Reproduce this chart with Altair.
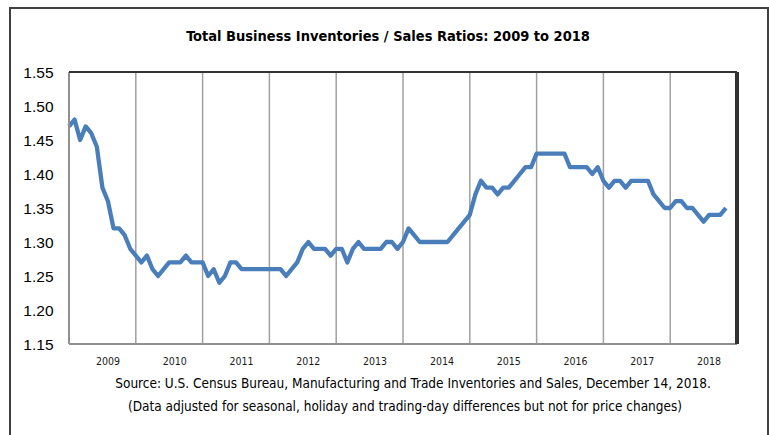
import altair as alt
import pandas as pd

# Monthly inventories/sales ratio (index 0 = first month plotted)
ratios = [
    1.47, 1.48, 1.45, 1.47, 1.46, 1.44, 1.38, 1.36, 1.32, 1.32, 1.31, 1.29,
    1.28, 1.27, 1.28, 1.26, 1.25, 1.26, 1.27, 1.27, 1.27, 1.28, 1.27, 1.27,
    1.27, 1.25, 1.26, 1.24, 1.25, 1.27, 1.27, 1.26, 1.26, 1.26, 1.26, 1.26,
    1.26, 1.26, 1.26, 1.25, 1.26, 1.27, 1.29, 1.30, 1.29, 1.29, 1.29, 1.28,
    1.29, 1.29, 1.27, 1.29, 1.30, 1.29, 1.29, 1.29, 1.29, 1.30, 1.30, 1.29,
    1.30, 1.32, 1.31, 1.30, 1.30, 1.30, 1.30, 1.30, 1.30, 1.31, 1.32, 1.33,
    1.34, 1.37, 1.39, 1.38, 1.38, 1.37, 1.38, 1.38, 1.39, 1.40, 1.41, 1.41,
    1.43, 1.43, 1.43, 1.43, 1.43, 1.43, 1.41, 1.41, 1.41, 1.41, 1.40, 1.41,
    1.39, 1.38, 1.39, 1.39, 1.38, 1.39, 1.39, 1.39, 1.39, 1.37, 1.36, 1.35,
    1.35, 1.36, 1.36, 1.35, 1.35, 1.34, 1.33, 1.34, 1.34, 1.34, 1.35,
]
years = ["2009", "2010", "2011", "2012", "2013", "2014", "2015", "2016", "2017", "2018"]
y_ticks = [1.15, 1.20, 1.25, 1.30, 1.35, 1.40, 1.45, 1.50, 1.55]
title_text = "Total Business Inventories / Sales Ratios: 2009 to 2018"
source_line1 = "Source: U.S. Census Bureau, Manufacturing and Trade Inventories and Sales, December 14, 2018."
source_line2 = "(Data adjusted for seasonal, holiday and trading-day differences but not for price changes)"

W, H = 668, 272
NARROW = "Liberation Sans Narrow, DejaVu Sans Condensed, Arial Narrow, sans-serif"

df = pd.DataFrame({"m": list(range(len(ratios))), "ratio": ratios})
bounds = pd.DataFrame({"m": [12 * (i + 1) for i in range(len(years) - 1)]})
centers = [12 * i + 6 for i in range(len(years))]
label_expr = "[" + ",".join("'%s'" % y for y in years) + "][floor(datum.value / 12)]"

xscale = alt.Scale(domain=[0, 120], nice=False, zero=False)
yscale = alt.Scale(domain=[1.15, 1.55], nice=False, zero=False)

x_axis = alt.Axis(
    values=centers, labelExpr=label_expr, title=None, grid=False, ticks=False,
    domain=False, labelFont=NARROW, labelFontSize=10.5, labelColor="#1a1a1a",
    labelPadding=12, labelOverlap=False, labelOffset=5,
)
y_axis = alt.Axis(
    values=y_ticks, format=".2f", title=None, grid=False, ticks=False, domain=False,
    labelFont="Liberation Sans, Arial, sans-serif", labelFontSize=15.5,
    labelColor="#000000", labelPadding=16,
)

frame = alt.Chart(df).mark_rect(filled=False, stroke="#404040", strokeWidth=2).encode(
    x=alt.value(-59), x2=alt.value(699), y=alt.value(-64), y2=alt.value(420)
)

grid = alt.Chart(bounds).mark_rule(color="#a0a0a0", strokeWidth=1.5).encode(
    x=alt.X("m:Q", scale=xscale, axis=x_axis)
)

line = alt.Chart(df).mark_line(color="#4a7ebb", strokeWidth=4.3, strokeJoin="round").encode(
    x=alt.X("m:Q", scale=xscale, axis=x_axis),
    y=alt.Y("ratio:Q", scale=yscale, axis=y_axis),
)

left_bottom = alt.Chart(df).mark_rule(color="#909090", strokeWidth=1.5).encode(
    x=alt.value(0), x2=alt.value(0), y=alt.value(0), y2=alt.value(H)
) + alt.Chart(df).mark_rule(color="#909090", strokeWidth=1.5).encode(
    x=alt.value(0), x2=alt.value(W), y=alt.value(H), y2=alt.value(H)
)
top_right = alt.Chart(df).mark_rule(color="#333333", strokeWidth=2).encode(
    x=alt.value(0), x2=alt.value(W), y=alt.value(0), y2=alt.value(0)
) + alt.Chart(df).mark_rule(color="#333333", strokeWidth=2.5).encode(
    x=alt.value(W), x2=alt.value(W), y=alt.value(0), y2=alt.value(H)
)

title = alt.Chart(pd.DataFrame({"t": [title_text]})).mark_text(
    font=NARROW, fontSize=14.5, fontWeight="bold", color="#000000", align="center", baseline="middle"
).encode(text="t:N", x=alt.value(319), y=alt.value(-35))

src1 = alt.Chart(pd.DataFrame({"t": [source_line1]})).mark_text(
    font=NARROW, fontSize=13.5, color="#000000", align="center", baseline="middle"
).encode(text="t:N", x=alt.value(W / 2 + 10), y=alt.value(312))

src2 = alt.Chart(pd.DataFrame({"t": [source_line2]})).mark_text(
    font=NARROW, fontSize=13.5, color="#000000", align="center", baseline="middle"
).encode(text="t:N", x=alt.value(W / 2 + 2), y=alt.value(335))

chart = alt.layer(frame, grid, line, left_bottom, top_right, title, src1, src2).properties(
    width=W,
    height=H,
    autosize=alt.AutoSizeParams(type="none"),
    padding={"left": 69, "top": 72, "right": 32, "bottom": 91},
    background="#ffffff",
).configure_view(stroke=None)

chart.save("out.html", embed_options={"renderer": "svg", "actions": False})
